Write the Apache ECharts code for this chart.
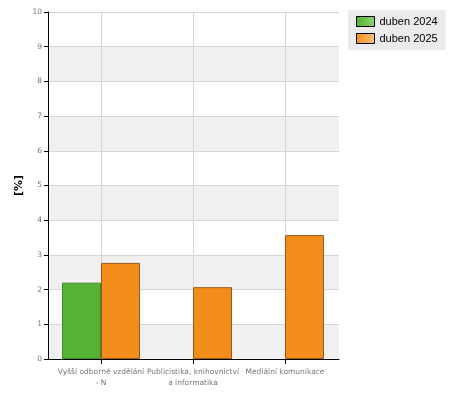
<!DOCTYPE html>
<html>
<head>
<meta charset="utf-8">
<script src="https://cdn.jsdelivr.net/npm/echarts@6/dist/echarts.min.js"></script>
<style>
  html, body { margin: 0; padding: 0; background: #fff; }
  #chart { width: 450px; height: 400px; }
</style>
</head>
<body>
<div id="chart"></div>
<script>
// data
const categories = ["Vyšší odborné vzdělání\n- N", "Publicistika, knihovnictví\na informatika", "Mediální komunikace"];
const seriesNames = ["duben 2024", "duben 2025"];
const values2024 = [2.2, null, null];
const values2025 = [2.77, 2.07, 3.57];
const yTicks = [0, 10, 1]; // min, max, interval

const labelFont = { fontFamily: "DejaVu Sans", fontSize: 7.5, color: "#777" };

const chart = echarts.init(document.getElementById("chart"));
const option = {
  animation: false,
  backgroundColor: "#fff",
  grid: [
    { left: 48, right: 111, top: 12, bottom: 41 }, // background bands + y axis
    { left: 55, right: 119, top: 12, bottom: 41 }, // bars
    { left: 101, right: 165, top: 12, bottom: 41 }, // vertical lines at category centres
  ],
  legend: {
    orient: "vertical",
    left: 348,
    top: 10,
    padding: [6, 8, 6, 8],
    itemGap: 6,
    itemWidth: 18,
    itemHeight: 10,
    icon: "rect",
    backgroundColor: "#ebebeb",
    textStyle: { fontFamily: "Liberation Sans", fontSize: 11, color: "#000" },
    itemStyle: { borderColor: "#000", borderWidth: 1 },
    data: [
      {
        name: seriesNames[0],
        itemStyle: {
          color: new echarts.graphic.LinearGradient(0, 0, 1, 0, [
            { offset: 0, color: "#4fb233" },
            { offset: 1, color: "#8fd46f" },
          ]),
        },
      },
      {
        name: seriesNames[1],
        itemStyle: {
          color: new echarts.graphic.LinearGradient(0, 0, 1, 0, [
            { offset: 0, color: "#f2901c" },
            { offset: 1, color: "#fbc27a" },
          ]),
        },
      },
    ],
  },
  xAxis: [
    {
      gridIndex: 0,
      type: "value",
      min: 0,
      max: 1,
      axisLine: { show: true, lineStyle: { color: "#000", width: 1 } },
      axisTick: { show: false },
      axisLabel: { show: false },
      splitLine: { show: false },
    },
    {
      gridIndex: 1,
      type: "category",
      data: categories,
      axisLine: { show: false },
      axisTick: { show: false },
      splitLine: { show: false },
      axisLabel: { ...labelFont, margin: 8, lineHeight: 11, interval: 0 },
    },
    {
      gridIndex: 2,
      type: "value",
      min: 0,
      max: 2,
      interval: 1,
      z: 1,
      axisLine: { show: false },
      axisTick: { show: true, length: 5, lineStyle: { color: "#000" } },
      axisLabel: { show: false },
      splitLine: { show: true, lineStyle: { color: "#d6d6d6", width: 1 } },
    },
  ],
  yAxis: [
    {
      gridIndex: 0,
      type: "value",
      min: yTicks[0],
      max: yTicks[1],
      interval: yTicks[2],
      name: "[%]",
      nameLocation: "middle",
      nameRotate: 90,
      nameGap: 23,
      nameMoveOverlap: false,
      nameTextStyle: { fontFamily: "DejaVu Sans", fontSize: 11, fontWeight: "bold", color: "#000" },
      axisLine: { show: true, lineStyle: { color: "#000", width: 1 } },
      axisTick: { show: true, length: 4, lineStyle: { color: "#000" } },
      axisLabel: { ...labelFont, margin: 6 },
      splitLine: { show: true, lineStyle: { color: "#d6d6d6", width: 1 } },
      splitArea: { show: true, areaStyle: { color: ["#f0f0f0", "#ffffff"] } },
    },
    { gridIndex: 1, type: "value", min: yTicks[0], max: yTicks[1], show: false },
    { gridIndex: 2, type: "value", min: yTicks[0], max: yTicks[1], show: false },
  ],
  series: [
    {
      name: seriesNames[0],
      type: "bar",
      xAxisIndex: 1,
      yAxisIndex: 1,
      data: values2024,
      barWidth: 39,
      barGap: "0%",
      z: 3,
      itemStyle: { color: "#55b234", borderColor: "#3d8a2a", borderWidth: 1 },
    },
    {
      name: seriesNames[1],
      type: "bar",
      xAxisIndex: 1,
      yAxisIndex: 1,
      data: values2025,
      barWidth: 39,
      barGap: "0%",
      z: 3,
      itemStyle: { color: "#f28c1a", borderColor: "#9a5a1e", borderWidth: 1 },
    },
  ],
};
chart.setOption(option);
</script>
</body>
</html>
